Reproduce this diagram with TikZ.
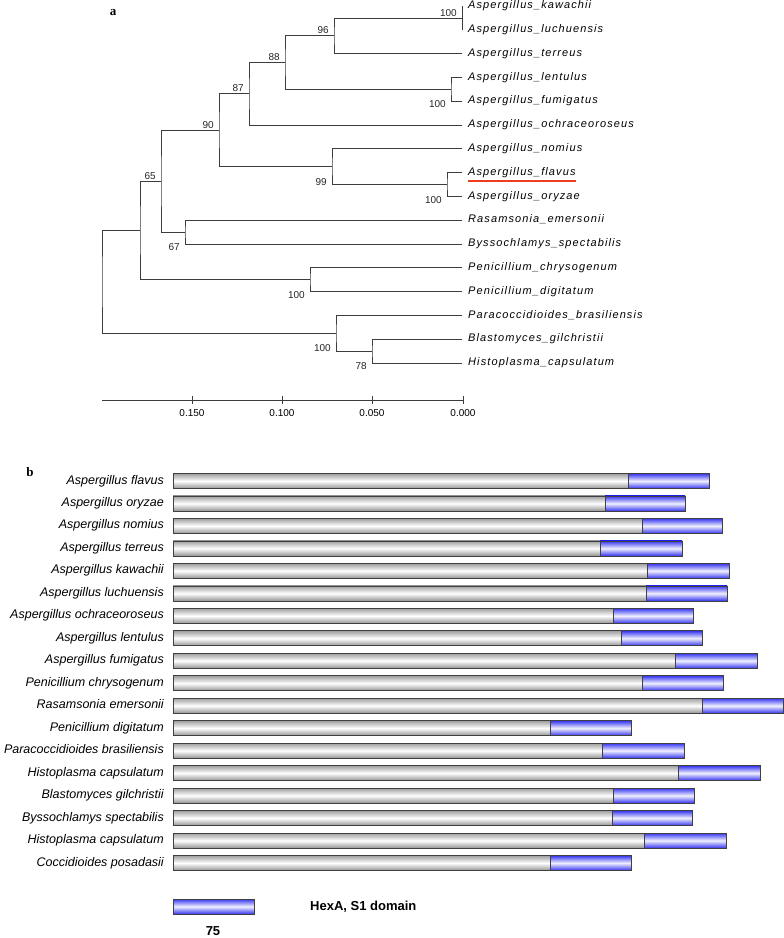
\documentclass[tikz,border=0pt]{standalone}
\usepackage{fontspec}
\setmainfont{Liberation Serif}
\newfontfamily\treefont[LetterSpace=10]{Liberation Sans}
\newfontfamily\barfont{Liberation Sans}

\definecolor{branchgrey}{HTML}{3C3C3C}
\definecolor{hexblue}{HTML}{3535F0}
\definecolor{flavred}{HTML}{F03C1E}

\tikzset{
  branch/.style={draw=branchgrey, line width=1pt},
  tip/.style={anchor=west, inner sep=0pt, xshift=6pt, text=black,
    font=\treefont\itshape\fontsize{11}{13}\selectfont, text height=8pt, text depth=2.5pt},
  boot/.style={anchor=east, inner sep=0pt, text=black!85,
    font=\barfont\fontsize{10}{12}\selectfont, text height=7pt, text depth=0pt},
  bootabove/.style={boot, xshift=-5pt, yshift=5.5pt},
  bootbelow/.style={boot, xshift=-5pt, yshift=-15pt},
  scalelbl/.style={anchor=base, inner sep=0pt, font=\barfont\fontsize{10}{12}\selectfont},
  species/.style={anchor=east, inner sep=0pt,
    font=\barfont\itshape\fontsize{12.5}{14}\selectfont, text height=9pt, text depth=3pt},
  panel/.style={inner sep=0pt, font=\bfseries\fontsize{13}{15}\selectfont},
  greybar/.style={top color=black!38, bottom color=black!42, middle color=white},
  bluebar/.style={top color=hexblue, bottom color=hexblue, middle color=blue!6},
  barline/.style={draw=black!75, line width=0.6pt},
}

\begin{document}
\begin{tikzpicture}[x=1pt, y=-1pt]
  \useasboundingbox (0,0) rectangle (784,938);

  % a: tree
  \node[panel] (pa) at (113,13) {a};

  \coordinate (tKaw) at (462,6);
  \coordinate (tLuc) at (462,29.8);
  \coordinate (tTer) at (462,53.6);
  \coordinate (tLen) at (462,77.4);
  \coordinate (tFum) at (462,101.2);
  \coordinate (tOch) at (462,125);
  \coordinate (tNom) at (462,148.8);
  \coordinate (tFla) at (462,172.6);
  \coordinate (tOry) at (462,196.4);
  \coordinate (tRas) at (462,220.2);
  \coordinate (tBys) at (462,244);
  \coordinate (tChr) at (462,267.8);
  \coordinate (tDig) at (462,291.6);
  \coordinate (tPar) at (462,315.4);
  \coordinate (tBla) at (462,339.2);
  \coordinate (tHis) at (462,363);

  \node[tip] (lKaw) at (tKaw) {Aspergillus\_kawachii};
  \node[tip] (lLuc) at (tLuc) {Aspergillus\_luchuensis};
  \node[tip] (lTer) at (tTer) {Aspergillus\_terreus};
  \node[tip] (lLen) at (tLen) {Aspergillus\_lentulus};
  \node[tip] (lFum) at (tFum) {Aspergillus\_fumigatus};
  \node[tip] (lOch) at (tOch) {Aspergillus\_ochraceoroseus};
  \node[tip] (lNom) at (tNom) {Aspergillus\_nomius};
  \node[tip] (lFla) at (tFla) {Aspergillus\_flavus};
  \node[tip] (lOry) at (tOry) {Aspergillus\_oryzae};
  \node[tip] (lRas) at (tRas) {Rasamsonia\_emersonii};
  \node[tip] (lBys) at (tBys) {Byssochlamys\_spectabilis};
  \node[tip] (lChr) at (tChr) {Penicillium\_chrysogenum};
  \node[tip] (lDig) at (tDig) {Penicillium\_digitatum};
  \node[tip] (lPar) at (tPar) {Paracoccidioides\_brasiliensis};
  \node[tip] (lBla) at (tBla) {Blastomyces\_gilchristii};
  \node[tip] (lHis) at (tHis) {Histoplasma\_capsulatum};

  \draw[flavred, line width=1.3pt] ([yshift=-3pt]lFla.south west) -- ([yshift=-3pt]lFla.south east);

  \coordinate (nKL) at (462,18);
  \coordinate (n96) at (334,35.8);
  \coordinate (nLF) at (451,89.3);
  \coordinate (n88) at (285,62.5);
  \coordinate (n87) at (249,93.8);
  \coordinate (nFO) at (447,184.5);
  \coordinate (n99) at (332,166.6);
  \coordinate (n90) at (219,130.2);
  \coordinate (n67) at (185,232.1);
  \coordinate (n65) at (161,181.2);
  \coordinate (nPen) at (310,279.7);
  \coordinate (nA) at (140,230.5);
  \coordinate (nBH) at (372,351.1);
  \coordinate (nPB) at (336,333.3);
  \coordinate (root) at (102,281.8);

  \draw[branch] (tKaw) -- (tLuc);
  \draw[branch] (nKL) -| (n96) |- (tTer);
  \draw[branch] (tLen) -| (nLF) |- (tFum);
  \draw[branch] (n96) -| (n88) |- (nLF);
  \draw[branch] (n88) -| (n87) |- (tOch);
  \draw[branch] (tFla) -| (nFO) |- (tOry);
  \draw[branch] (tNom) -| (n99) |- (nFO);
  \draw[branch] (n87) -| (n90) |- (n99);
  \draw[branch] (tRas) -| (n67) |- (tBys);
  \draw[branch] (n90) -| (n65) |- (n67);
  \draw[branch] (tChr) -| (nPen) |- (tDig);
  \draw[branch] (n65) -| (nA) |- (nPen);
  \draw[branch] (tBla) -| (nBH) |- (tHis);
  \draw[branch] (tPar) -| (nPB) |- (nBH);
  \draw[branch] (nA) -| (root) |- (nPB);

  \node[bootabove] (bKL) at (nKL) {100};
  \node[bootabove] (b96) at (n96) {96};
  \node[bootabove] (b88) at (n88) {88};
  \node[bootabove] (b87) at (n87) {87};
  \node[bootabove] (b90) at (n90) {90};
  \node[bootabove] (b65) at (n65) {65};
  \node[bootbelow] (bLF) at (nLF) {100};
  \node[bootbelow] (b99) at (n99) {99};
  \node[bootbelow] (bFO) at (nFO) {100};
  \node[bootbelow] (b67) at (n67) {67};
  \node[bootbelow] (bPen) at (nPen) {100};
  \node[bootbelow] (bPB) at (nPB) {100};
  \node[bootbelow] (bBH) at (nBH) {78};

  % scale
  \coordinate (s0) at (102,400);
  \coordinate (s1) at (463,400);
  \draw[branch] (s0) -- (s1);
  \foreach \x/\v in {192/0.150, 282/0.100, 372/0.050, 463/0.000} {
    \draw[branch] (\x,396) -- (\x,404);
    \node[scalelbl] (sc\x) at (\x,416) {\v};
  }

  % b: domains
  \node[panel] (pb) at (30,472) {b};

  \foreach \name/\bs/\be [count=\i from 0] in {
      Aspergillus flavus/628/709,
      Aspergillus oryzae/605/685,
      Aspergillus nomius/642/722,
      Aspergillus terreus/600/682,
      Aspergillus kawachii/647/729,
      Aspergillus luchuensis/646/727,
      Aspergillus ochraceoroseus/613/693,
      Aspergillus lentulus/621/702,
      Aspergillus fumigatus/675/757,
      Penicillium chrysogenum/642/723,
      Rasamsonia emersonii/702/783,
      Penicillium digitatum/550/631,
      Paracoccidioides brasiliensis/602/684,
      Histoplasma capsulatum/678/760,
      Blastomyces gilchristii/613/694,
      Byssochlamys spectabilis/612/692,
      Histoplasma capsulatum/644/726,
      Coccidioides posadasii/550/631} {
    \pgfmathsetmacro\ry{481+22.47*\i}
    \node[species] (sp\i) at (164,\ry) {\name};
    \shade[greybar] (173,{\ry-7.5}) rectangle (\bs,{\ry+7.5});
    \shade[bluebar] (\bs,{\ry-7.5}) rectangle (\be,{\ry+7.5});
    \draw[barline] (173,{\ry-7.5}) rectangle (\be,{\ry+7.5});
    \draw[barline] (\bs,{\ry-7.5}) -- (\bs,{\ry+7.5});
  }

  % legend
  \shade[bluebar] (173,899) rectangle (254,914);
  \draw[barline] (173,899) rectangle (254,914);
  \node[inner sep=0pt, font=\barfont\bfseries\fontsize{13}{15}\selectfont] (leg75) at (213,931) {75};
  \node[anchor=west, inner sep=0pt, font=\barfont\bfseries\fontsize{13}{15}\selectfont] (legtxt) at (310,907) {HexA, S1 domain};
\end{tikzpicture}
\end{document}
